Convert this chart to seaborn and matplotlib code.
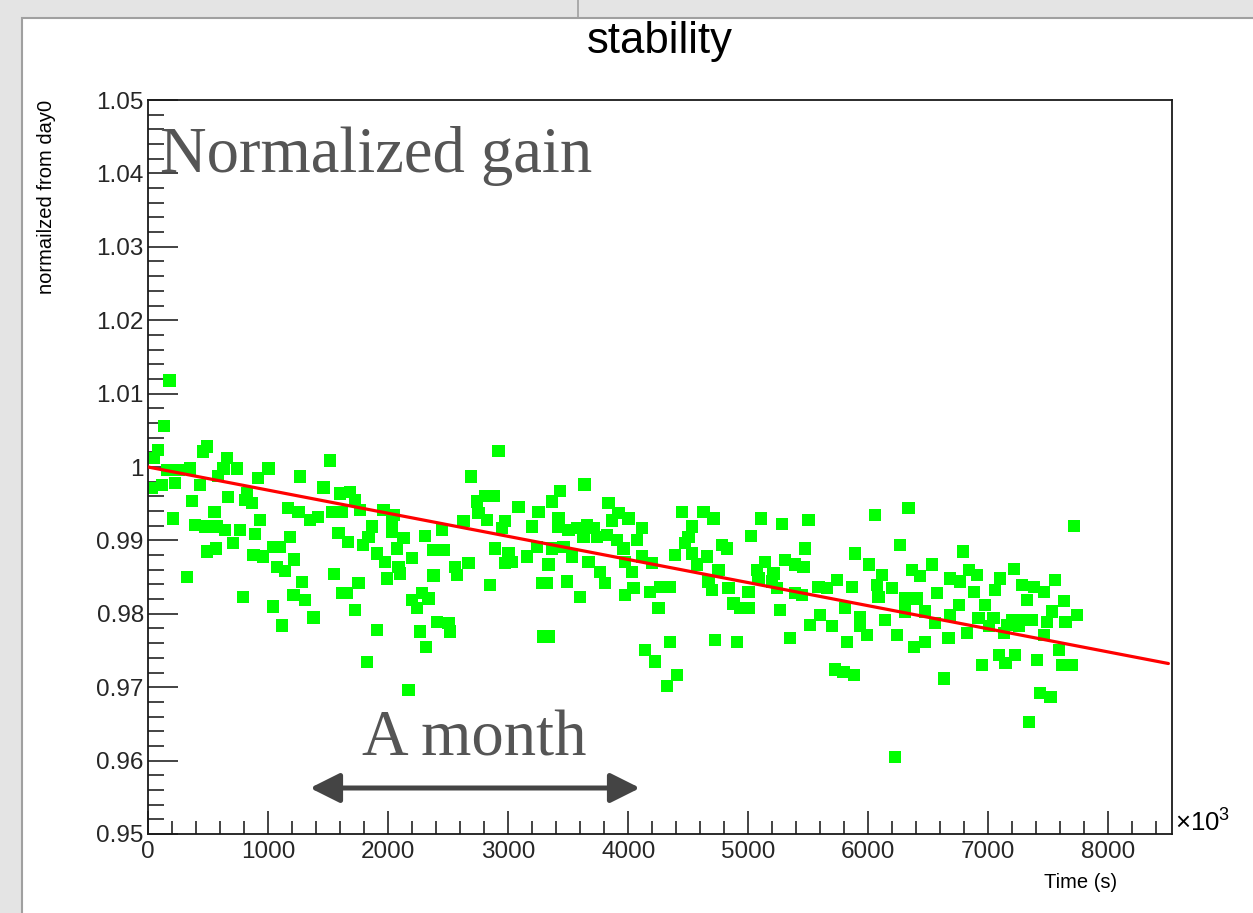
import numpy as np
import pandas as pd
import matplotlib
matplotlib.use('Agg')
import matplotlib.pyplot as plt
import seaborn as sns
from matplotlib.ticker import MultipleLocator, FuncFormatter
from matplotlib.patches import Rectangle
from matplotlib.lines import Line2D

# ---------------- data (time in units of 10^3 s) ----------------
time_k = [
    178, 136, 86, 53, 489, 461, 656, 739, 628, 586,
    350, 253, 156, 1003, 919, 1267, 1517, 1461, 1600, 31,
    114, 225, 433, 364, 669, 822, 808, 864, 553, 211,
    933, 1169, 1253, 1350, 1419, 1531, 1614, 392, 475, 573,
    642, 767, 711, 892, 489, 564, 878, 961, 1044, 1100,
    1183, 1072, 1142, 1219, 1586, 322, 1281, 1550, 794, 1211,
    1308, 1044, 1614, 1378, 1114,
    2919, 2692, 2808, 2739, 2878, 3086, 3253, 2753, 2822, 2628,
    2975, 2948, 3197, 1683, 1725, 1767, 1961, 2044, 2031, 1864,
    1836, 2031, 2128, 2308, 2447, 1669, 1794, 2072, 1906, 2378,
    2461, 1975, 2197, 2086, 2558, 2669, 2572, 1989, 2100, 2378,
    2850, 2892, 3003, 2975, 3031, 3156, 3239, 1753, 1656, 1725,
    2197, 2281, 2336, 2239, 2406, 2503, 2517, 1906, 2267, 2317,
    1822, 2169, 3281, 3294,
    3636, 3433, 3364, 3836, 3919, 4003, 3864, 3419, 3419, 3503,
    3572, 3656, 3711, 3628, 3739, 3822, 3906, 4114, 4072, 3961,
    3461, 3531, 3364, 3336, 3669, 3767, 3808, 3975, 4031, 4114,
    4197, 3489, 3322, 3600, 3975, 4044, 4183, 4267, 4350, 4253,
    4447, 4628, 4711, 4531, 4503, 4475, 4781, 4822, 4392, 4531,
    4656, 4572, 4753, 4669, 4697, 4836, 4878, 4933, 3336, 4142,
    4225, 4350, 4725, 4906, 4406, 4322,
    5106, 5281, 5503, 6058, 6336, 5025, 5475, 5892, 6267, 6003,
    5142, 5308, 5392, 5461, 5072, 5211, 5086, 5197, 6114, 6364,
    6433, 6531, 5586, 5739, 5864, 6072, 6197, 6572, 5239, 5392,
    5447, 5656, 6086, 6308, 6406, 5003, 5003, 5267, 5808, 5600,
    5933, 6308, 6475, 5517, 5697, 5933, 6142, 6558, 5350, 5822,
    5989, 6239, 6378, 6475, 5725, 5794, 5878, 6628, 6225,
    7711, 6786, 7211, 6836, 6906, 6683, 6767, 7100, 7558, 7281,
    7378, 7461, 6878, 7058, 7322, 7628, 6975, 6753, 7531, 7739,
    6919, 7044, 7197, 7294, 7364, 7489, 7642, 7156, 7253, 7003,
    6683, 6669, 6822, 7128, 7461, 7586, 7086, 7225, 7142, 6947,
    7406, 7614, 7697, 7433, 7517, 7336,
]

gain = [
    1.0118, 1.0056, 1.0023, 1.0012, 1.0028, 1.0021, 1.0012, 0.9998, 0.9998, 0.9988,
    0.9998, 0.9996, 0.9996, 0.9998, 0.9985, 0.9987, 1.0009, 0.9972, 0.9964, 0.9971,
    0.9975, 0.9978, 0.9975, 0.9954, 0.9959, 0.9964, 0.9955, 0.9951, 0.9939, 0.9930,
    0.9928, 0.9944, 0.9939, 0.9928, 0.9932, 0.9939, 0.9939, 0.9921, 0.9919, 0.9919,
    0.9914, 0.9914, 0.9896, 0.9909, 0.9885, 0.9889, 0.9880, 0.9878, 0.9891, 0.9891,
    0.9905, 0.9864, 0.9858, 0.9874, 0.9910, 0.9850, 0.9843, 0.9854, 0.9823, 0.9826,
    0.9819, 0.9810, 0.9828, 0.9795, 0.9784,
    1.0022, 0.9987, 0.9960, 0.9953, 0.9960, 0.9946, 0.9939, 0.9937, 0.9928, 0.9926,
    0.9926, 0.9917, 0.9919, 0.9966, 0.9955, 0.9941, 0.9941, 0.9935, 0.9930, 0.9919,
    0.9905, 0.9912, 0.9903, 0.9906, 0.9914, 0.9898, 0.9894, 0.9889, 0.9882, 0.9887,
    0.9887, 0.9871, 0.9876, 0.9864, 0.9864, 0.9869, 0.9853, 0.9848, 0.9855, 0.9852,
    0.9839, 0.9889, 0.9882, 0.9869, 0.9871, 0.9878, 0.9891, 0.9842, 0.9828, 0.9805,
    0.9819, 0.9828, 0.9821, 0.9808, 0.9789, 0.9787, 0.9776, 0.9778, 0.9776, 0.9755,
    0.9734, 0.9696, 0.9842, 0.9769,
    0.9976, 0.9967, 0.9953, 0.9951, 0.9937, 0.9930, 0.9927, 0.9930, 0.9919, 0.9914,
    0.9917, 0.9921, 0.9917, 0.9905, 0.9905, 0.9907, 0.9901, 0.9917, 0.9901, 0.9889,
    0.9891, 0.9878, 0.9889, 0.9867, 0.9871, 0.9857, 0.9842, 0.9871, 0.9857, 0.9878,
    0.9869, 0.9844, 0.9842, 0.9823, 0.9826, 0.9835, 0.9830, 0.9837, 0.9837, 0.9808,
    0.9939, 0.9939, 0.9930, 0.9919, 0.9905, 0.9896, 0.9894, 0.9889, 0.9880, 0.9882,
    0.9878, 0.9867, 0.9860, 0.9844, 0.9832, 0.9835, 0.9814, 0.9808, 0.9769, 0.9751,
    0.9735, 0.9762, 0.9764, 0.9762, 0.9717, 0.9702,
    0.9930, 0.9922, 0.9928, 0.9935, 0.9944, 0.9906, 0.9889, 0.9882, 0.9894, 0.9867,
    0.9871, 0.9873, 0.9867, 0.9864, 0.9860, 0.9855, 0.9848, 0.9844, 0.9853, 0.9860,
    0.9851, 0.9867, 0.9837, 0.9846, 0.9837, 0.9839, 0.9835, 0.9828, 0.9835, 0.9828,
    0.9826, 0.9835, 0.9823, 0.9821, 0.9821, 0.9830, 0.9808, 0.9805, 0.9808, 0.9798,
    0.9796, 0.9803, 0.9803, 0.9785, 0.9783, 0.9783, 0.9792, 0.9787, 0.9767, 0.9762,
    0.9771, 0.9771, 0.9755, 0.9762, 0.9724, 0.9721, 0.9717, 0.9712, 0.9605,
    0.9920, 0.9885, 0.9861, 0.9860, 0.9853, 0.9848, 0.9844, 0.9848, 0.9846, 0.9839,
    0.9837, 0.9830, 0.9830, 0.9832, 0.9819, 0.9817, 0.9812, 0.9812, 0.9803, 0.9798,
    0.9794, 0.9794, 0.9792, 0.9792, 0.9792, 0.9789, 0.9789, 0.9785, 0.9783, 0.9783,
    0.9798, 0.9767, 0.9774, 0.9774, 0.9771, 0.9751, 0.9744, 0.9744, 0.9733, 0.9730,
    0.9737, 0.9730, 0.9730, 0.9692, 0.9687, 0.9653,
]

# linear fit parameters
fit_p0 = 1.0
fit_p1 = -3.15e-6
fit_range = [0, 8500]

x_limits = (0, 8530)
y_limits = (0.95, 1.05)

title = 'stability'
x_label = 'Time (s)'
y_label = 'normailzed from day0'
note_top = 'Normalized gain'
note_month = 'A month'

# ---------------- style ----------------
sns.set_theme(style='white')
plt.rcParams['font.family'] = ['Liberation Sans', 'DejaVu Sans']
plt.rcParams['mathtext.fontset'] = 'custom'
plt.rcParams['mathtext.rm'] = 'Liberation Sans'

W, H = 1253, 913
fig = plt.figure(figsize=(W / 100, H / 100), dpi=100)
fig.patch.set_facecolor('#e4e4e4')

# white canvas with thin grey frame (drawn beneath the axes)
canvas = Rectangle((22 / W, -0.01), 1 - 22 / W + 0.01, 1 - 18 / H + 0.01,
                   transform=fig.transFigure, facecolor='white',
                   edgecolor='#a0a0a0', lw=1.5, zorder=-5)
fig.patches.append(canvas)
fig.add_artist(Line2D([578 / W, 578 / W], [1 - 18 / H, 1], transform=fig.transFigure,
                      color='#a0a0a0', lw=1.2, zorder=-5))

ax = fig.add_axes([148 / W, 1 - 834 / H, 1024 / W, 734 / H])
ax.set_zorder(1)
ax.set_facecolor('white')

df = pd.DataFrame({'time': time_k, 'gain': gain})
sns.scatterplot(data=df, x='time', y='gain', marker='s', s=78, color='#00ff00',
                edgecolor='none', linewidth=0, ax=ax, zorder=2, legend=False)

fit_x = np.linspace(fit_range[0], fit_range[1], 300)
fit_df = pd.DataFrame({'time': fit_x, 'gain': fit_p0 + fit_p1 * fit_x})
sns.lineplot(data=fit_df, x='time', y='gain', color='#ff0000', linewidth=2.3,
             ax=ax, zorder=3, legend=False)

ax.set_xlim(*x_limits)
ax.set_ylim(*y_limits)

ax.xaxis.set_major_locator(MultipleLocator(1000))
ax.xaxis.set_minor_locator(MultipleLocator(200))
ax.yaxis.set_major_locator(MultipleLocator(0.01))
ax.yaxis.set_minor_locator(MultipleLocator(0.002))
ax.xaxis.set_major_formatter(FuncFormatter(lambda v, p: f'{int(round(v))}'))
ax.yaxis.set_major_formatter(FuncFormatter(lambda v, p: f'{round(v, 4):g}'))

ax.tick_params(axis='x', which='major', direction='in', length=16.5, width=1.1,
               color='#111111', labelsize=17.5, pad=5, bottom=True, top=False)
ax.tick_params(axis='x', which='minor', direction='in', length=9.5, width=1.1,
               color='#111111', bottom=True, top=False)
ax.tick_params(axis='y', which='major', direction='in', length=21.5, width=1.1,
               color='#111111', labelsize=17.5, pad=3, left=True, right=False)
ax.tick_params(axis='y', which='minor', direction='in', length=11.5, width=1.1,
               color='#111111', left=True, right=False)

for sp in ax.spines.values():
    sp.set_visible(True)
    sp.set_color('#1a1a1a')
    sp.set_linewidth(1.3)

ax.set_xlabel(x_label, fontsize=14.5, color='black')
ax.xaxis.label.set_horizontalalignment('right')
ax.xaxis.label.set_verticalalignment('center')
ax.xaxis.set_label_coords((1117 - 148) / 1024, -(882 - 834) / 734)

ax.set_ylabel(y_label, fontsize=14.5, color='black', loc='top')
ax.yaxis.set_label_coords((56 - 148) / 1024, 1.0)

fig.text(660 / W, 1 - 42 / H, title, ha='center', va='center', fontsize=31.5, color='black')

ax.text(1.003, 0.004, r'$\times10^{3}$', transform=ax.transAxes, ha='left',
        va='baseline', fontsize=18.5, color='black')

ax.text((160 - 148) / 1024, (834 - 172) / 734, note_top, transform=ax.transAxes,
        ha='left', va='baseline', fontsize=46.5, color='#555555',
        family=['Liberation Serif', 'DejaVu Serif'])
ax.text((474 - 148) / 1024, (834 - 755) / 734, note_month, transform=ax.transAxes,
        ha='center', va='baseline', fontsize=46.5, color='#555555',
        family=['Liberation Serif', 'DejaVu Serif'])

ax.annotate('', xy=((640 - 148) / 1024, (834 - 788) / 734), xycoords='axes fraction',
            xytext=((310 - 148) / 1024, (834 - 788) / 734), textcoords='axes fraction',
            arrowprops=dict(arrowstyle='<|-|>,head_length=0.9,head_width=0.45',
                            mutation_scale=20, color='#444444', lw=3.6,
                            shrinkA=0, shrinkB=0))

fig.savefig('out.png', dpi=100, facecolor=fig.get_facecolor())
